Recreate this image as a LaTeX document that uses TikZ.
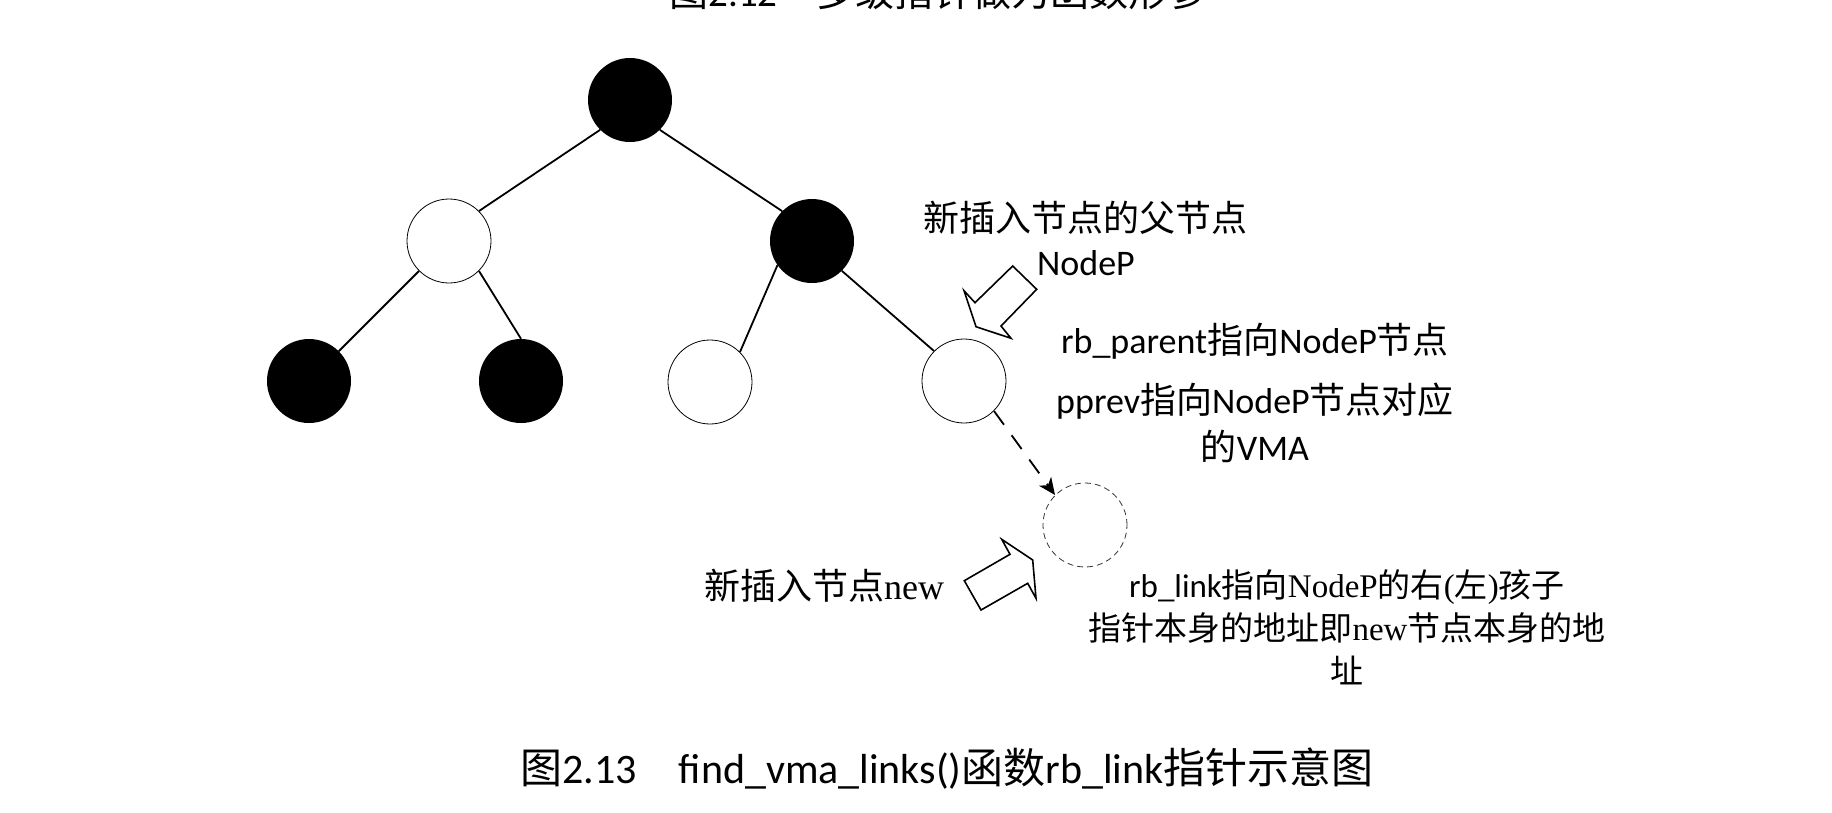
\documentclass[tikz,border=0pt]{standalone}
\usepackage{fontspec}
\setmainfont{Carlito}
\newfontfamily\cjk{Noto Sans CJK SC}
\newfontfamily\tnr{Liberation Serif}
\usetikzlibrary{arrows.meta,calc}

\begin{document}
\begin{tikzpicture}[x = 1pt, y = -1pt,
every node/.style = {inner sep = 0pt}]

\tikzset{
	black_node/.style = {
		circle, fill = black, minimum size = 84pt
	},
	white_node/.style = {
		circle, draw = black, line width = 0.8pt, minimum size = 84pt
	},
	new_node/.style = {
		circle, draw = black!80, line width = 0.8pt,
		dash pattern = on 6pt off 4pt, minimum size = 84pt
	},
	tree_edge/.style = {
		line width = 1.8pt
	},
	block_arrow/.style = {
		draw, line width = 1.6pt, line join = miter, fill = white
	},
	note_text/.style = {
		anchor = base, font = \fontsize{36}{44}\selectfont
	}
}

\useasboundingbox (0,0) rectangle (1832,812);

% arbol
\node[black_node] (Root) at (630,100) {};
\node[white_node] (L) at (449,241) {};
\node[black_node] (R) at (812,241) {};
\node[black_node] (LL) at (309,381) {};
\node[black_node] (LR) at (521,381) {};
\node[white_node] (RL) at (710,382) {};
\node[white_node] (NodeP) at (964,381) {};
\node[new_node] (New) at (1085,525) {};

\draw[tree_edge] (Root.-135) -- (L.45);
\draw[tree_edge] (Root.-45) -- (R.135);
\draw[tree_edge] (L.-135) -- (LL.45);
\draw[tree_edge] (L.-45) -- (LR.90);
\draw[tree_edge] (R.-145) -- (RL.45);
\draw[tree_edge] (R.-45) -- (NodeP.135);
\draw[tree_edge, dash pattern = on 17pt off 13pt,
	-{Stealth[length = 17pt, width = 15pt, inset = 5pt]}] (NodeP.-45) -- (New.135); % rb_link

% flechas gruesas
\draw[block_arrow] (1012.7,266) -- (1036.7,289.3) -- (1001,326) -- (1011,338.3)
	-- (976,326.7) -- (964,290.7) -- (975,302.7) -- cycle;
\draw[block_arrow] (1001.7,539.3) -- (1032.7,560) -- (1036,598.3) -- (1027.7,583.3)
	-- (981,610) -- (964.3,580.7) -- (1010,554.3) -- cycle;

% textos (base = ultima linea)
\node[note_text] (ParentLbl) at (1085,231) {\cjk 新插入节点的父节点};
\node[note_text] (NodePLbl) at (1086,275) {NodeP};
\node[note_text] (ParentPtr) at (1255,353) {rb\_parent{\cjk 指向}NodeP{\cjk 节点}};
\node[note_text, align = center, font = \fontsize{36}{47}\selectfont] (PrevPtr) at (1255,460)
	{pprev{\cjk 指向}NodeP{\cjk 节点对应}\\{\cjk 的}VMA};
\node[note_text] (NewLbl) at (824,599) {{\cjk 新插入节点}{\tnr new}};
\node[note_text, align = center, font = \fontsize{33}{43}\selectfont] (LinkPtr) at (1347,683)
	{rb\_link{\cjk 指向}{\tnr NodeP}{\cjk 的右}{\tnr(}{\cjk 左}{\tnr)}{\cjk 孩子}\\
	{\cjk 指针本身的地址即}{\tnr new}{\cjk 节点本身的地}\\{\cjk 址}};

% titulos
\node[anchor = base, font = \fontsize{42}{48}\selectfont] (Caption) at (947,783)
	{{\cjk 图}2.13{\cjk 　}find\_vma\_links(){\cjk 函数}rb\_link{\cjk 指针示意图}};
\node[anchor = base, font = \fontsize{39}{46}\selectfont] (PrevCaption) at (938,6)
	{{\cjk 图}2.12{\cjk 　多级指针做为函数形参}};
\end{tikzpicture}
\end{document}
